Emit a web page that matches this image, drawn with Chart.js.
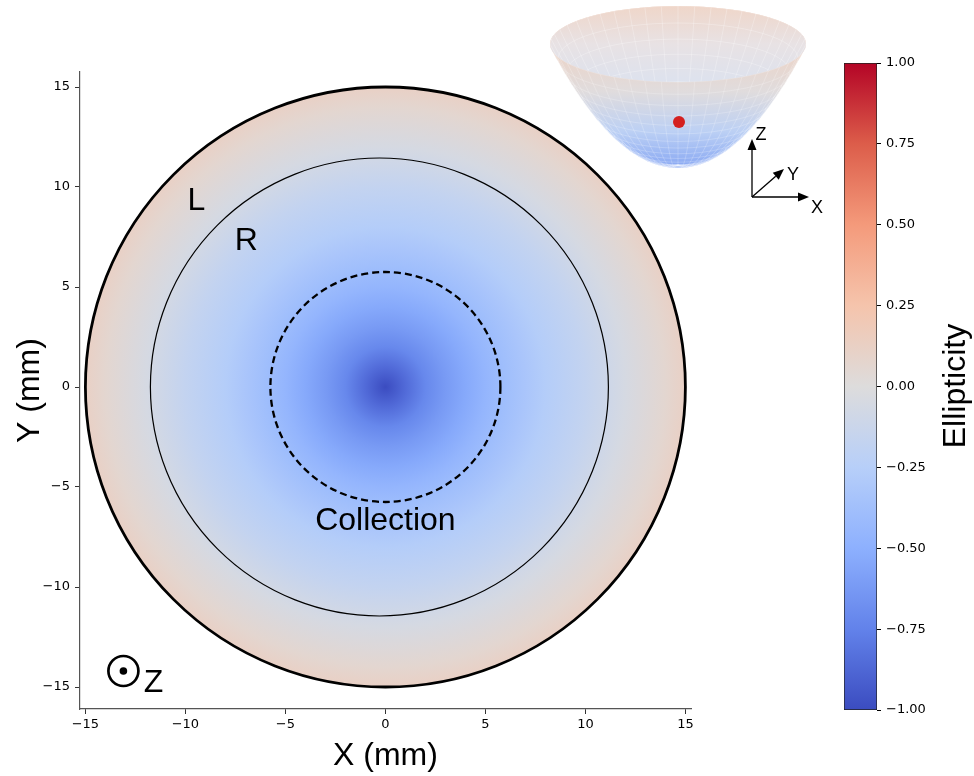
<!DOCTYPE html>
<html lang="en">
<head>
<meta charset="UTF-8" />
<title>Ellipticity map</title>
<style>
  body { margin: 0; background: #fff; }
  #wrap { position: relative; width: 974px; height: 776px; }
  #mainChart { position: absolute; left: 0; top: 0; }
  #cbarChart { position: absolute; left: 830px; top: 0; }
</style>
</head>
<body>
<div id="wrap">
  <canvas id="mainChart" width="974" height="776"></canvas>
  <canvas id="cbarChart" width="144" height="776"></canvas>
</div>

<script src="https://cdn.jsdelivr.net/npm/chart.js"></script>
<script>
  // ---- data ----
  const xTicks = [-15, -10, -5, 0, 5, 10, 15];
  const yTicks = [-15, -10, -5, 0, 5, 10, 15];
  const cbarTicks = [-1, -0.75, -0.5, -0.25, 0, 0.25, 0.5, 0.75, 1];

  // radial ellipticity profile (mm -> ellipticity)
  const profileRadius     = [0,    1,     2,     3,     4,     5,     6,     7,     8,     10,    12,    14,   15];
  const profileEllipticity = [-1.0, -0.86, -0.72, -0.62, -0.54, -0.46, -0.39, -0.33, -0.27, -0.17, -0.05, 0.06, 0.12];

  // circles: mirror edge, L/R boundary, collection area (centre x and radius in mm)
  const circleCx = [0, -0.3, 0];
  const circleRadii = [15, 11.45, 5.75];

  // text annotations (data coords)
  const noteText = ['L', 'R', 'Collection'];
  const noteX = [-9.45, -6.95, 0];
  const noteY = [9.3, 7.3, -6.7];

  // ---- styles ----
  const sans = '"Liberation Sans", Arial, sans-serif';
  const tickFont = { family: '"DejaVu Sans", sans-serif', size: 13 };
  const circleStyle = [
    { width: 2.8, dash: [] },
    { width: 1.2, dash: [] },
    { width: 2.3, dash: [7, 4] }
  ];

  const coolwarmStops = ['#3b4cc0', '#6282ea', '#8db0fe', '#b7cff9', '#dddcdc',
                         '#f5c4ac', '#f49a7b', '#dc5d4a', '#b40426'];
  function hexRgb(h) { return [1, 3, 5].map(i => parseInt(h.substr(i, 2), 16)); }
  function coolwarm(e) {
    let t = Math.min(1, Math.max(0, (e + 1) / 2)) * (coolwarmStops.length - 1);
    const i = Math.min(Math.floor(t), coolwarmStops.length - 2);
    const f = t - i;
    const a = hexRgb(coolwarmStops[i]), b = hexRgb(coolwarmStops[i + 1]);
    const c = a.map((v, k) => Math.round(v + (b[k] - v) * f));
    return `rgb(${c[0]},${c[1]},${c[2]})`;
  }
  const fmtMinus = v => (v < 0 ? '\u2212' : '') + Math.abs(v);
  const fmtCbar = v => (v < 0 ? '\u2212' : '') + Math.abs(v).toFixed(2);

  // disc colour map, circles and labels drawn in data space
  const discPlugin = {
    id: 'disc',
    beforeDatasetsDraw(chart) {
      const { ctx, scales: { x, y } } = chart;
      const cx = x.getPixelForValue(0), cy = y.getPixelForValue(0);
      const px = r => x.getPixelForValue(r) - cx;
      const rMax = profileRadius[profileRadius.length - 1];
      const R = px(rMax);
      ctx.save();
      const g = ctx.createRadialGradient(cx, cy, 0, cx, cy, R);
      profileRadius.forEach((r, i) => g.addColorStop(r / rMax, coolwarm(profileEllipticity[i])));
      ctx.fillStyle = g;
      ctx.beginPath();
      ctx.arc(cx, cy, R, 0, Math.PI * 2);
      ctx.fill();

      ctx.strokeStyle = '#000';
      circleRadii.forEach((r, i) => {
        ctx.lineWidth = circleStyle[i].width;
        ctx.setLineDash(circleStyle[i].dash);
        ctx.beginPath();
        ctx.arc(x.getPixelForValue(circleCx[i]), cy, px(r), 0, Math.PI * 2);
        ctx.stroke();
      });
      ctx.setLineDash([]);

      ctx.fillStyle = '#000';
      ctx.font = `32px ${sans}`;
      ctx.textAlign = 'center';
      ctx.textBaseline = 'middle';
      noteText.forEach((s, i) => {
        ctx.fillText(s, x.getPixelForValue(noteX[i]), y.getPixelForValue(noteY[i]));
      });

      // out-of-plane Z marker
      const ox = x.getPixelForValue(-13.1), oy = y.getPixelForValue(-14.2);
      ctx.lineWidth = 2.7;
      ctx.beginPath();
      ctx.arc(ox, oy, 15, 0, Math.PI * 2);
      ctx.stroke();
      ctx.beginPath();
      ctx.arc(ox, oy, 3.8, 0, Math.PI * 2);
      ctx.fill();
      ctx.fillText('Z', x.getPixelForValue(-11.6), y.getPixelForValue(-14.8));
      ctx.restore();
    }
  };

  // schematic of the paraboloid mirror (inset, top right)
  const insetPlugin = {
    id: 'inset',
    afterDraw(chart) {
      const ctx = chart.ctx;
      const cx = 678, rimY = 44, baseY = 165, RX = 128, RY = 38;
      const ring = t => ({ y: baseY - (baseY - rimY) * t * t, rx: Math.max(RX * t, 0.01), ry: Math.max(RY * t, 0.01) });
      ctx.save();

      // outer surface
      const g = ctx.createLinearGradient(0, rimY, 0, 169);
      g.addColorStop(0, '#eed2c3');
      g.addColorStop(0.38, '#e0dcdd');
      g.addColorStop(0.7, '#bcd0f4');
      g.addColorStop(1, '#86a6f3');
      ctx.fillStyle = g;
      ctx.beginPath();
      for (let i = 0; i <= 80; i++) {
        const r = ring(i / 80);
        ctx.moveTo(cx + r.rx, r.y);
        ctx.ellipse(cx, r.y, r.rx, r.ry, 0, 0, Math.PI * 2);
      }
      ctx.fill();

      // front mesh
      ctx.strokeStyle = 'rgba(255,255,255,0.35)';
      ctx.lineWidth = 0.6;
      for (let k = 1; k <= 16; k++) {
        const r = ring(k / 16);
        ctx.beginPath();
        ctx.ellipse(cx, r.y, r.rx, r.ry, 0, 0, Math.PI);
        ctx.stroke();
      }
      for (let j = 0; j <= 24; j++) {
        const th = j * Math.PI / 24;
        ctx.beginPath();
        for (let k = 0; k <= 20; k++) {
          const r = ring(k / 20);
          const X = cx + r.rx * Math.cos(th), Y = r.y + r.ry * Math.sin(th);
          k ? ctx.lineTo(X, Y) : ctx.moveTo(X, Y);
        }
        ctx.stroke();
      }

      // inner (back) surface seen through the opening
      ctx.beginPath();
      ctx.ellipse(cx, rimY, RX, RY, 0, 0, Math.PI * 2);
      const gi = ctx.createLinearGradient(0, rimY - RY, 0, rimY + RY);
      gi.addColorStop(0, '#efd6c9');
      gi.addColorStop(0.5, '#e8e2e4');
      gi.addColorStop(1, '#dde2ee');
      ctx.fillStyle = gi;
      ctx.fill();
      ctx.clip();
      ctx.strokeStyle = 'rgba(255,255,255,0.45)';
      for (let k = 4; k <= 16; k++) {
        const r = ring(k / 16);
        ctx.beginPath();
        ctx.ellipse(cx, r.y, r.rx, r.ry, 0, Math.PI, Math.PI * 2);
        ctx.stroke();
      }
      for (let j = 0; j <= 24; j++) {
        const th = Math.PI + j * Math.PI / 24;
        ctx.beginPath();
        for (let k = 0; k <= 20; k++) {
          const r = ring(k / 20);
          const X = cx + r.rx * Math.cos(th), Y = r.y + r.ry * Math.sin(th);
          k ? ctx.lineTo(X, Y) : ctx.moveTo(X, Y);
        }
        ctx.stroke();
      }
      ctx.restore();

      // focal point
      ctx.save();
      ctx.fillStyle = '#d42020';
      ctx.beginPath();
      ctx.arc(679, 122, 6, 0, Math.PI * 2);
      ctx.fill();

      // little XYZ triad
      const arrow = (x0, y0, x1, y1) => {
        const a = Math.atan2(y1 - y0, x1 - x0), L = 11, W = 4.5;
        ctx.beginPath();
        ctx.moveTo(x0, y0);
        ctx.lineTo(x1 - L * Math.cos(a), y1 - L * Math.sin(a));
        ctx.stroke();
        ctx.beginPath();
        ctx.moveTo(x1, y1);
        ctx.lineTo(x1 - L * Math.cos(a) + W * Math.sin(a), y1 - L * Math.sin(a) - W * Math.cos(a));
        ctx.lineTo(x1 - L * Math.cos(a) - W * Math.sin(a), y1 - L * Math.sin(a) + W * Math.cos(a));
        ctx.closePath();
        ctx.fill();
      };
      ctx.strokeStyle = '#000';
      ctx.fillStyle = '#000';
      ctx.lineWidth = 1.3;
      arrow(752, 197, 752, 139);
      arrow(752, 197, 809, 197);
      arrow(752, 197, 784, 169);
      ctx.font = `18px ${sans}`;
      ctx.textAlign = 'center';
      ctx.textBaseline = 'middle';
      ctx.fillText('Z', 761, 135);
      ctx.fillText('Y', 793, 175);
      ctx.fillText('X', 817, 208);
      ctx.restore();
    }
  };

  new Chart(document.getElementById('mainChart'), {
    type: 'scatter',
    data: { datasets: [] },
    options: {
      responsive: false,
      animation: false,
      layout: { padding: { left: 0, top: 72, right: 283, bottom: 0 } },
      plugins: { legend: { display: false }, tooltip: { enabled: false } },
      scales: {
        x: {
          type: 'linear', min: -15.27, max: 15.28,
          afterBuildTicks: s => { s.ticks = xTicks.map(v => ({ value: v })); },
          afterFit: s => { s.height = 67; },
          grid: { drawOnChartArea: false, tickLength: 5, color: '#333' },
          border: { color: '#555', width: 1.2 },
          ticks: { font: tickFont, color: '#000', padding: 3, maxRotation: 0, autoSkip: false, callback: fmtMinus },
          title: { display: true, text: 'X (mm)', color: '#000', font: { family: sans, size: 32, lineHeight: 1.2 }, padding: { top: 0, bottom: 1 } }
        },
        y: {
          type: 'linear', min: -16.1, max: 15.75,
          afterBuildTicks: s => { s.ticks = yTicks.map(v => ({ value: v })); },
          afterFit: s => { s.width = 80; },
          grid: { drawOnChartArea: false, tickLength: 5, color: '#333' },
          border: { color: '#555', width: 1.2 },
          ticks: { font: tickFont, color: '#000', padding: 5, autoSkip: false, callback: fmtMinus },
          title: { display: true, text: 'Y (mm)', color: '#000', font: { family: sans, size: 32, lineHeight: 1.2 }, padding: { top: 11, bottom: 0 } }
        }
      }
    },
    plugins: [discPlugin, insetPlugin]
  });

  const cbarLabel = {
    id: 'cbarLabel',
    afterDraw(chart) {
      const ctx = chart.ctx;
      ctx.save();
      ctx.translate(126, 386);
      ctx.rotate(-Math.PI / 2);
      ctx.font = `32px ${sans}`;
      ctx.fillStyle = '#000';
      ctx.textAlign = 'center';
      ctx.textBaseline = 'middle';
      ctx.fillText('Ellipticity', 0, 0);
      ctx.restore();
    }
  };

  new Chart(document.getElementById('cbarChart'), {
    type: 'bar',
    data: {
      labels: [''],
      datasets: [{
        data: [[cbarTicks[0], cbarTicks[cbarTicks.length - 1]]],
        backgroundColor: c => {
          const { ctx, chartArea } = c.chart;
          if (!chartArea) return '#ddd';
          const g = ctx.createLinearGradient(0, chartArea.bottom, 0, chartArea.top);
          coolwarmStops.forEach((col, i) => g.addColorStop(i / (coolwarmStops.length - 1), col));
          return g;
        },
        borderColor: '#222',
        borderWidth: 1,
        borderSkipped: false,
        barPercentage: 1,
        categoryPercentage: 1
      }]
    },
    options: {
      responsive: false,
      animation: false,
      layout: { padding: { left: 14, top: 63, right: 0, bottom: 66 } },
      plugins: { legend: { display: false }, tooltip: { enabled: false } },
      scales: {
        x: { display: false },
        y: {
          position: 'right', min: -1, max: 1,
          afterBuildTicks: s => { s.ticks = cbarTicks.map(v => ({ value: v })); },
          afterFit: s => { s.width = 97; },
          grid: { drawOnChartArea: false, tickLength: 4, color: '#000' },
          border: { display: false },
          ticks: { font: tickFont, color: '#000', padding: 5, callback: fmtCbar }
        }
      }
    },
    plugins: [cbarLabel]
  });
</script>
</body>
</html>
